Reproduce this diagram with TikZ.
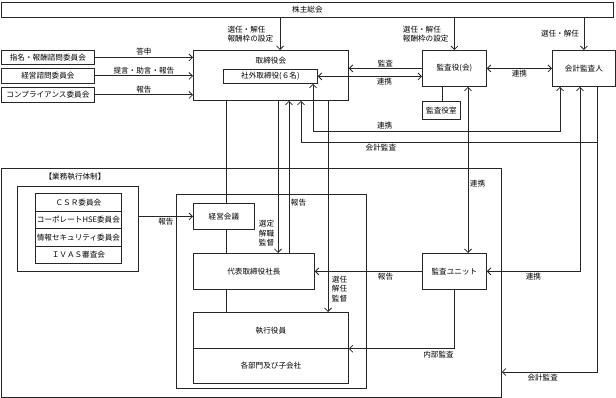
\documentclass[tikz,border=0pt]{standalone}
\usepackage{fontspec}
\setmainfont{Noto Sans CJK JP}
\usetikzlibrary{arrows.meta}

\begin{document}
\begin{tikzpicture}[x=1pt, y=-1pt,
    every node/.style={font=\fontsize{7.6}{9.5}\selectfont},
    box/.style={draw=black!85, fill=white, line width=0.8pt, anchor=north west, inner sep=0pt},
    lbl/.style={inner sep=1.5pt},
    line/.style={draw=black!85, line width=0.8pt},
    arr/.style={line, -{Straight Barb[length=3.5pt,width=7pt]}},
    darr/.style={line, {Straight Barb[length=3.5pt,width=7pt]}-{Straight Barb[length=3.5pt,width=7pt]}}]
    % --- 定义坐标和参数 (像素坐标, y 向下) ---
    \def\yRenkei{131}    % 连携线的高度
    \def\yKaikei{142}    % 会计监查线的高度
    \def\yKaikeiB{372}   % 下方会计监查线的高度

    \useasboundingbox (0,0) rectangle (616,398);

    % --- 业务执行体制 (外框) ---
    \node[box, fill=none, minimum width=500pt, minimum height=229pt,
        label={[anchor=north, xshift=74pt, yshift=-2pt]north west:【業務執行体制】}] (gyomu) at (1,168) {};
    \node[box, fill=none, minimum width=190pt, minimum height=194pt] (shikko) at (176,194) {};

    % --- 上方各框 ---
    \node[box, minimum width=612pt, minimum height=15pt] (sokai) at (1,2) {株主総会};
    \node[box, minimum width=155pt, minimum height=50pt,
        label={[anchor=north, yshift=-3.5pt]north:取締役会}] (torishimari) at (193,50) {};
    \node[box, minimum width=94pt, minimum height=14pt] (shagai) at (223,69) {社外取締役(６名)};
    \node[box, minimum width=93pt, minimum height=14pt] (shimei) at (1,50) {指名・報酬諮問委員会};
    \node[box, minimum width=93pt, minimum height=15pt] (keieishimon) at (1,68) {経営諮問委員会};
    \node[box, minimum width=93pt, minimum height=15pt] (compliance) at (1,87) {コンプライアンス委員会};
    \node[box, minimum width=64pt, minimum height=36pt] (kansayaku) at (422,50) {監査役(会)};
    \node[box, minimum width=38pt, minimum height=18pt] (kansashitsu) at (422,101) {監査役室};
    \node[box, minimum width=63pt, minimum height=36pt] (kaikei) at (552,50) {会計監査人};

    % --- 委员会组 ---
    \node[box, minimum width=121pt, minimum height=85pt] (iinkai) at (17,186) {};
    \node[box, minimum width=86pt, minimum height=18pt] (csr) at (35,193) {ＣＳＲ委員会};
    \node[box, minimum width=86pt, minimum height=17pt] (hse) at (35,211) {コーポレートHSE委員会};
    \node[box, minimum width=86pt, minimum height=18pt] (joho) at (35,228) {情報セキュリティ委員会};
    \node[box, minimum width=86pt, minimum height=17pt] (ivas) at (35,246) {ＩＶＡＳ審査会};

    % --- 执行侧各框 ---
    \node[box, minimum width=61pt, minimum height=26pt] (keiei) at (193,203) {経営会議};
    \node[box, minimum width=121pt, minimum height=36pt] (daihyo) at (193,253) {代表取締役社長};
    \node[box, minimum width=155pt, minimum height=36pt] (yakuin) at (193,312) {執行役員};
    \node[box, minimum width=155pt, minimum height=35pt] (bumon) at (193,348) {各部門及び子会社};
    \node[box, minimum width=64pt, minimum height=36pt] (kansaunit) at (422,253) {監査ユニット};

    % --- 辅助坐标 ---
    \coordinate (xS) at (280,0);
    \coordinate (xA) at (226,0);
    \coordinate (xB) at (278,0);
    \coordinate (xC) at (289,0);
    \coordinate (xF) at (328,0);
    \coordinate (xG) at (442,0);
    \coordinate (xH) at (468,0);
    \coordinate (xJ) at (580,0);
    \coordinate (renkeiL) at (313,\yRenkei);
    \coordinate (renkeiR) at (560,\yRenkei);
    \coordinate (kaikeiL) at (301,\yKaikei);
    \coordinate (kaikeiR) at (597,\yKaikei);
    \coordinate (kaikeiB) at (597,\yKaikeiB);

    % --- 株主总会 → 各机关 ---
    \draw[arr] (sokai.south -| xS) -- (torishimari.north -| xS)
        node[lbl, midway, left=5pt, align=left] {選任・解任\\報酬枠の設定};
    \draw[arr] (sokai.south -| kansayaku.north) -- (kansayaku.north)
        node[lbl, midway, left=4pt, align=left] {選任・解任\\報酬枠の設定};
    \draw[arr] (sokai.south -| kaikei.north) -- (kaikei.north)
        node[lbl, midway, left=3pt] {選任・解任};

    % --- 委员会 → 取締役会 ---
    \draw[arr] (shimei.east) -- (shimei.east -| torishimari.west) node[lbl, midway, above] {答申};
    \draw[arr] (keieishimon.east) -- (keieishimon.east -| torishimari.west) node[lbl, midway, above] {提言・助言・報告};
    \draw[arr] (compliance.east) -- (compliance.east -| torishimari.west) node[lbl, midway, above] {報告};

    % --- 监查役(会) 周围 ---
    \draw[arr] (kansayaku.west) -- (kansayaku.west -| torishimari.east) node[lbl, midway, above] {監査};
    \draw[darr] (shagai.east) -- (shagai.east -| kansayaku.west) node[lbl, pos=0.64, below] {連携};
    \draw[darr] (kansayaku) -- node[lbl, below] {連携} (kaikei);
    \draw[line] (kansayaku.south -| xG) -- (kansashitsu.north -| xG);
    \draw[darr] (kansayaku.south -| xH) -- node[lbl, pos=0.58, right] {連携} (kansaunit.north -| xH);

    % --- 会计监查人 周围 ---
    \draw[darr] (shagai.south -| renkeiL) -- (renkeiL) -- node[lbl, pos=0.29, above] {連携} (renkeiR) -- (kaikei.south -| renkeiR);
    \draw[arr] (kaikei.south -| kaikeiR) -- (kaikeiR) -- node[lbl, pos=0.73, below] {会計監査} (kaikeiL) -- (torishimari.south -| kaikeiL);
    \draw[arr] (kaikeiR) -- (kaikeiB) -- node[lbl, pos=0.57, below] {会計監査} (gyomu.east |- kaikeiB);
    \draw[darr] (kaikei.south -| xJ) |- node[lbl, pos=0.75, below] {連携} (kansaunit.east);

    % --- 执行侧连线 ---
    \draw[arr] (iinkai.east |- keiei.west) -- node[lbl, below] {報告} (keiei.west);
    \draw[line] (torishimari.south -| xA) -- (keiei.north -| xA)
        (keiei.south -| xA) -- (daihyo.north -| xA)
        (daihyo.south -| xA) -- (yakuin.north -| xA);
    \draw[arr] (torishimari.south -| xB) -- node[lbl, pos=0.87, left, align=center, xshift=-2pt] {選定\\解職\\監督} (daihyo.north -| xB);
    \draw[arr] (daihyo.north -| xC) -- node[lbl, pos=0.33, right] {報告} (torishimari.south -| xC);
    \draw[arr] (torishimari.south -| xF) -- node[lbl, pos=0.89, right, align=center, xshift=2pt] {選任\\解任\\監督} (yakuin.north -| xF);
    \draw[arr] (kansaunit.west) -- node[lbl, pos=0.34, below] {報告} (daihyo.east);
    \draw[arr] (kansaunit.south) |- node[lbl, pos=0.575, below] {内部監査} (yakuin.south east);

\end{tikzpicture}
\end{document}
